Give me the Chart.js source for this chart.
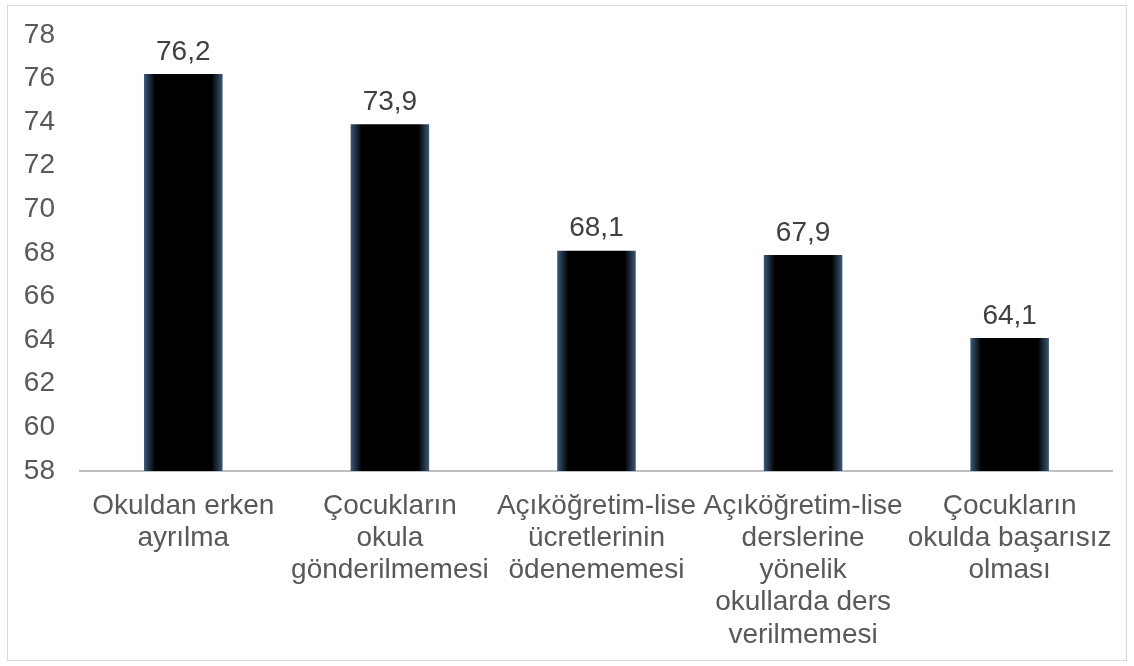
<!DOCTYPE html>
<html>
<head>
<meta charset="utf-8">
<script src="https://cdn.jsdelivr.net/npm/chart.js@4"></script>
<style>
    body { margin: 0; background: #fff; overflow: hidden; }
    #frame {
        position: absolute; left: 7px; top: 5px;
        width: 1118px; height: 654px;
        border: 1px solid #d9d9d9;
    }
    #chart { position: absolute; left: 8px; top: -7px; }
</style>
</head>
<body>
<div id="frame"></div>
<canvas id="chart" width="1124" height="667"></canvas>
<script>
// Chart data
const categories = [
    ['Okuldan erken', 'ayrılma'],
    ['Çocukların', 'okula', 'gönderilmemesi'],
    ['Açıköğretim-lise', 'ücretlerinin', 'ödenememesi'],
    ['Açıköğretim-lise', 'derslerine', 'yönelik', 'okullarda ders', 'verilmemesi'],
    ['Çocukların', 'okulda başarısız', 'olması']
];
const values = [76.2, 73.9, 68.1, 67.9, 64.1];
const yMin = 58;
const yMax = 78;
const yStep = 2;

const FONT = '"Liberation Sans", Arial, sans-serif';
const BAR_PCT = 0.38;

// Black bar with bluish edges
function barFill(context) {
    const chart = context.chart;
    const x = chart.scales.x;
    if (!chart.chartArea || !x) return '#000';
    const cx = x.getPixelForValue(context.dataIndex);
    const half = (x.width / categories.length) * BAR_PCT / 2;
    const g = chart.ctx.createLinearGradient(cx - half, 0, cx + half, 0);
    g.addColorStop(0, '#3a5878');
    g.addColorStop(0.14, '#000');
    g.addColorStop(0.86, '#000');
    g.addColorStop(1, '#3a5878');
    return g;
}

// Value labels above bars
const valueLabels = {
    id: 'valueLabels',
    afterDatasetsDraw(chart) {
        const ctx = chart.ctx;
        const meta = chart.getDatasetMeta(0);
        ctx.save();
        ctx.font = '28px ' + FONT;
        ctx.fillStyle = '#404040';
        ctx.textAlign = 'center';
        ctx.textBaseline = 'bottom';
        meta.data.forEach((bar, i) => {
            ctx.fillText(values[i].toFixed(1).replace('.', ','), bar.x, bar.y - 8);
        });
        ctx.restore();
    }
};

new Chart(document.getElementById('chart'), {
    type: 'bar',
    data: {
        labels: categories,
        datasets: [{
            data: values,
            backgroundColor: barFill,
            borderWidth: 0,
            barPercentage: BAR_PCT,
            categoryPercentage: 1
        }]
    },
    options: {
        responsive: false,
        animation: false,
        layout: { padding: { top: 29, right: 14, bottom: 0, left: 0 } },
        plugins: {
            legend: { display: false },
            tooltip: { enabled: false }
        },
        scales: {
            x: {
                grid: { display: false, drawTicks: false },
                border: { display: true, color: '#bfbfbf', width: 2 },
                ticks: {
                    color: '#595959',
                    font: { family: FONT, size: 28, lineHeight: 1.15 },
                    padding: 19,
                    maxRotation: 0,
                    autoSkip: false
                },
                afterFit(scale) { scale.height = 189; }
            },
            y: {
                min: yMin,
                max: yMax,
                grid: { display: false, drawTicks: false },
                border: { display: false },
                ticks: {
                    stepSize: yStep,
                    color: '#595959',
                    font: { family: FONT, size: 28 },
                    padding: 25
                },
                afterFit(scale) { scale.width = 72; }
            }
        }
    },
    plugins: [valueLabels]
});
</script>
</body>
</html>
